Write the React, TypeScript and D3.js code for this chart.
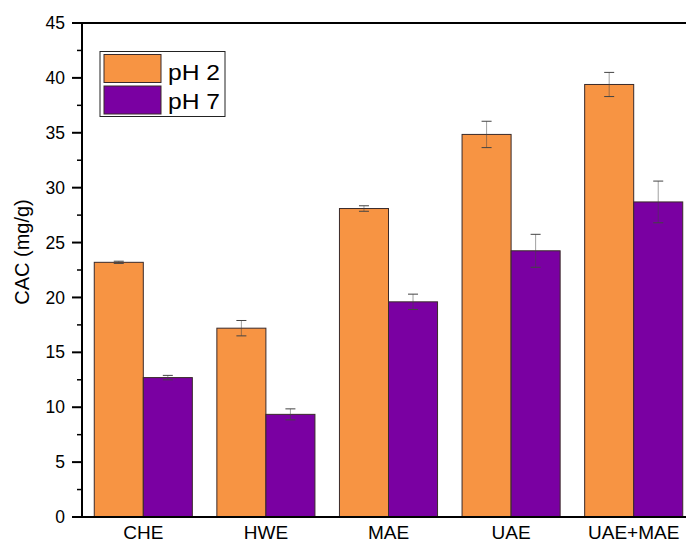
import React from "react";
import * as d3 from "d3";

// Extraction methods and mean CAC values (mg/g) with standard deviations
const categories = ["CHE", "HWE", "MAE", "UAE", "UAE+MAE"];
const seriesNames = ["pH 2", "pH 7"];
const ph2Values = [23.2, 17.2, 28.1, 34.85, 39.4];
const ph2Errors = [0.1, 0.7, 0.25, 1.2, 1.1];
const ph7Values = [12.7, 9.35, 19.6, 24.25, 28.7];
const ph7Errors = [0.2, 0.5, 0.7, 1.5, 1.9];
const yTicks = [0, 5, 10, 15, 20, 25, 30, 35, 40, 45];

const colors = ["#F79443", "#7A00A2"];

const W = 686;
const H = 544;
const left = 82;
const right = 695;
const top = 23;
const bottom = 517;

export default function App() {
  const x = d3
    .scaleBand<string>()
    .domain(categories)
    .range([left, right])
    .paddingInner(0.2)
    .paddingOuter(0.1);
  const sub = d3
    .scaleBand<string>()
    .domain(seriesNames)
    .range([0, x.bandwidth()]);
  const y = d3.scaleLinear().domain([0, 45]).range([bottom, top]);
  const minor = d3.range(2.5, 45, 5);

  const series = [
    { name: seriesNames[0], values: ph2Values, errors: ph2Errors, color: colors[0] },
    { name: seriesNames[1], values: ph7Values, errors: ph7Errors, color: colors[1] },
  ];

  const font = "Liberation Sans, Arial, sans-serif";

  return (
    <svg
      width={W}
      height={H}
      style={{ position: "absolute", left: 0, top: 0, background: "#fff" }}
      fontFamily={font}
    >
      <rect width={W} height={H} fill="#fff" />
      {/* bars */}
      {series.map((s) =>
        categories.map((c, i) => (
          <rect
            key={s.name + c}
            x={(x(c) ?? 0) + (sub(s.name) ?? 0)}
            y={y(s.values[i])}
            width={sub.bandwidth()}
            height={y(0) - y(s.values[i])}
            fill={s.color}
            stroke="#3a2a2a"
            strokeWidth={1}
          />
        ))
      )}
      {/* error bars */}
      {series.map((s) =>
        categories.map((c, i) => {
          const cx = (x(c) ?? 0) + (sub(s.name) ?? 0) + sub.bandwidth() / 2;
          const hi = y(s.values[i] + s.errors[i]);
          const lo = y(s.values[i] - s.errors[i]);
          return (
            <g key={"e" + s.name + c} stroke="#444" strokeWidth={1}>
              <line x1={cx} x2={cx} y1={hi} y2={lo} strokeOpacity={0.5} />
              <line x1={cx - 5} x2={cx + 5} y1={hi} y2={hi} />
              <line x1={cx - 5} x2={cx + 5} y1={lo} y2={lo} />
            </g>
          );
        })
      )}
      {/* frame */}
      <line x1={left} x2={W} y1={top} y2={top} stroke="#000" strokeWidth={2} />
      <line x1={left} x2={left} y1={top - 1} y2={bottom + 1} stroke="#000" strokeWidth={2} />
      <line x1={left - 1} x2={W} y1={bottom} y2={bottom} stroke="#000" strokeWidth={2} />
      {/* y ticks */}
      {yTicks.map((t) => (
        <g key={"t" + t}>
          <line x1={left - 10} x2={left} y1={y(t)} y2={y(t)} stroke="#000" strokeWidth={2} />
          <text
            x={left - 17}
            y={y(t)}
            dy="0.35em"
            textAnchor="end"
            fontSize={17.5}
            fill="#000"
          >
            {t}
          </text>
        </g>
      ))}
      {minor.map((t) => (
        <line key={"m" + t} x1={left - 5} x2={left} y1={y(t)} y2={y(t)} stroke="#000" strokeWidth={1.5} />
      ))}
      {/* category labels */}
      {categories.map((c) => (
        <text
          key={"c" + c}
          x={(x(c) ?? 0) + x.bandwidth() / 2}
          y={539}
          textAnchor="middle"
          fontSize={19}
          fill="#000"
        >
          {c}
        </text>
      ))}
      {/* y axis title */}
      <text
        transform={`translate(29,252) rotate(-90)`}
        textAnchor="middle"
        fontSize={20}
        fill="#000"
      >
        CAC (mg/g)
      </text>
      {/* legend */}
      <rect x={100} y={51.5} width={125} height={65} fill="#fff" stroke="#222" strokeWidth={1} />
      {series.map((s, i) => (
        <g key={"l" + s.name}>
          <rect
            x={104}
            y={54.5 + i * 31.5}
            width={57}
            height={28}
            fill={s.color}
            stroke="#3a2a2a"
            strokeWidth={1}
          />
          <text
            x={168}
            y={80 + i * 29}
            fontSize={22}
            textLength={52}
            lengthAdjust="spacingAndGlyphs"
            fill="#000"
          >
            {s.name}
          </text>
        </g>
      ))}
    </svg>
  );
}
